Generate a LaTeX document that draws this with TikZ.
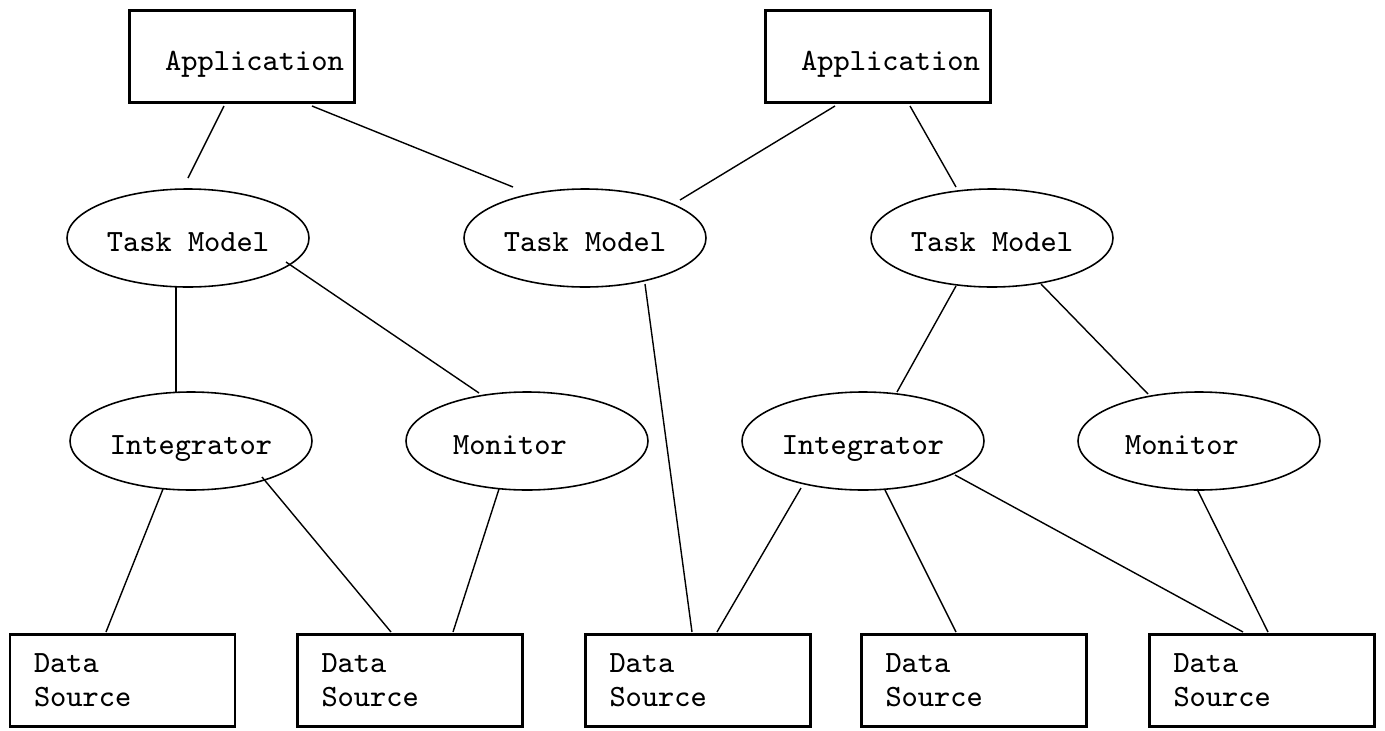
\documentclass[tikz,border=0pt]{standalone}
\usetikzlibrary{shapes.geometric,calc}
\begin{document}
\begin{tikzpicture}[x=1cm,y=-1cm,
  every node/.style={font=\fontsize{8.8}{9.7}\selectfont\ttfamily},
  appbox/.style={draw,line width=0.85pt,minimum width=2.25cm,minimum height=0.92cm,inner sep=0pt,text height=0.85em,text depth=0.05em},
  srcbox/.style={draw,line width=0.85pt,minimum height=0.92cm,text width=1.77cm,inner xsep=0.24cm,inner ysep=0pt,align=left},
  oval/.style={draw,ellipse,line width=0.45pt,minimum width=2.42cm,minimum height=0.98cm,inner sep=0pt,text height=0.82em,text depth=0.06em},
  link/.style={line width=0.4pt},
  heavylink/.style={line width=0.75pt}]
\useasboundingbox (0,0) rectangle (13.85,7.30);

% applications
\node[appbox] (app1) at (2.42,0.565) {\hspace*{0.25cm}Application};
\node[appbox] (app2) at (8.78,0.565) {\hspace*{0.25cm}Application};

% task models
\node[oval] (tm1) at (1.88,2.38) {Task Model};
\node[oval] (tm2) at (5.85,2.38) {Task Model};
\node[oval] (tm3) at (9.92,2.38) {Task Model};

% integrators and monitors
\node[oval] (int1) at (1.91,4.41) {Integrator};
\node[oval] (mon1) at (5.27,4.41) {Monitor\hspace*{0.34cm}};
\node[oval] (int2) at (8.63,4.41) {Integrator};
\node[oval] (mon2) at (11.99,4.41) {Monitor\hspace*{0.34cm}};

% data sources
\node[srcbox] (ds1) at (1.225,6.805) {Data\\Source};
\node[srcbox] (ds2) at (4.10,6.805) {Data\\Source};
\node[srcbox] (ds3) at (6.98,6.805) {Data\\Source};
\node[srcbox] (ds4) at (9.74,6.805) {Data\\Source};
\node[srcbox] (ds5) at (12.62,6.805) {Data\\Source};

% application -> task model
\draw[link] ($(app1)+(-0.18,0.495)$) -- ($(tm1)+(0,-0.60)$);
\draw[link] ($(app1)+(0.70,0.495)$) -- ($(tm2)+(-0.72,-0.51)$);
\draw[link] ($(app2)+(-0.43,0.495)$) -- ($(tm2)+(0.95,-0.38)$);
\draw[link] ($(app2)+(0.32,0.495)$) -- ($(tm3)+(-0.36,-0.51)$);

% task model -> integrator / monitor / source
\draw[heavylink] ($(tm1)+(-0.12,0.48)$) -- ($(int1)+(-0.15,-0.48)$);
\draw[link] ($(tm1)+(0.98,0.24)$) -- ($(mon1)+(-0.48,-0.48)$);
\draw[link] ($(tm2)+(0.60,0.46)$) -- ($(ds3)+(-0.06,-0.485)$);
\draw[link] ($(tm3)+(-0.36,0.48)$) -- ($(int2)+(0.34,-0.49)$);
\draw[link] ($(tm3)+(0.49,0.46)$) -- ($(mon2)+(-0.51,-0.47)$);

% integrator / monitor -> data source
\draw[link] ($(int1)+(-0.28,0.48)$) -- ($(ds1)+(-0.165,-0.485)$);
\draw[link] ($(int1)+(0.71,0.36)$) -- ($(ds2)+(-0.19,-0.485)$);
\draw[link] ($(mon1)+(-0.28,0.48)$) -- ($(ds2)+(0.43,-0.485)$);
\draw[link] ($(int2)+(-0.62,0.47)$) -- ($(ds3)+(0.19,-0.485)$);
\draw[link] ($(int2)+(0.22,0.49)$) -- ($(ds4)+(-0.18,-0.485)$);
\draw[link] ($(int2)+(0.92,0.34)$) -- ($(ds5)+(-0.19,-0.485)$);
\draw[link] ($(mon2)+(-0.02,0.48)$) -- ($(ds5)+(0.06,-0.485)$);
\end{tikzpicture}
\end{document}
